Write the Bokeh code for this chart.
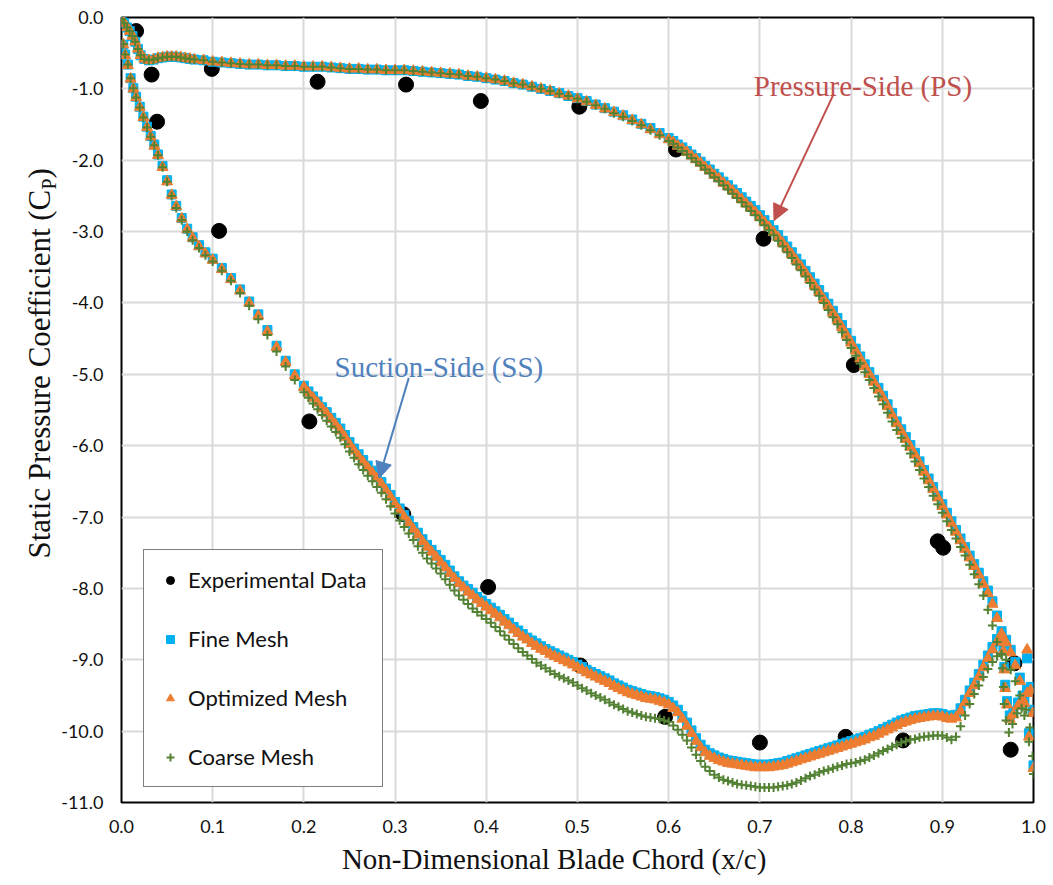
import math
from bokeh.plotting import figure
from bokeh.layouts import row, column
from bokeh.models import (Range1d, FixedTicker, NumeralTickFormatter, Label,
                          Arrow, NormalHead, Legend, LegendItem)
from bokeh.core.properties import value
from bokeh.embed import file_html
from bokeh.resources import INLINE

# ---------------- data ----------------
x_ticks = [0.0, 0.1, 0.2, 0.3, 0.4, 0.5, 0.6, 0.7, 0.8, 0.9, 1.0]
y_ticks = [0, -1, -2, -3, -4, -5, -6, -7, -8, -9, -10, -11]

exp_x = [0.016, 0.033, 0.039, 0.099, 0.107, 0.206, 0.215, 0.309, 0.312, 0.394, 0.402, 0.502,
         0.503, 0.596, 0.608, 0.700, 0.704, 0.794, 0.803, 0.857, 0.895, 0.901, 0.975, 0.979]
exp_cp = [-0.19, -0.80, -1.46, -0.72, -2.99, -5.66, -0.90, -6.96, -0.94, -1.17, -7.98, -1.25,
          -9.08, -9.80, -1.85, -10.16, -3.10, -10.08, -4.87, -10.13, -7.34, -7.43, -10.26, -9.05]

# suction side chord stations
x_ss = [0.000, 0.002, 0.004, 0.007, 0.010, 0.013, 0.016, 0.020, 0.024, 0.028,
        0.032, 0.036, 0.040, 0.045, 0.050, 0.055, 0.060, 0.066, 0.072, 0.078,
        0.085, 0.092, 0.100,
        0.11, 0.12, 0.13, 0.14, 0.15, 0.16, 0.17, 0.18, 0.19, 0.20,
        0.21, 0.22, 0.23, 0.24, 0.25, 0.26, 0.27, 0.28, 0.29, 0.30,
        0.31, 0.32, 0.33, 0.34, 0.35, 0.36, 0.37, 0.38, 0.39, 0.40,
        0.41, 0.42, 0.43, 0.44, 0.45, 0.46, 0.47, 0.48, 0.49, 0.50,
        0.51, 0.52, 0.53, 0.54, 0.55, 0.56, 0.57, 0.58, 0.59, 0.60,
        0.61, 0.62, 0.63, 0.64, 0.65, 0.66, 0.67, 0.68, 0.69, 0.70,
        0.71, 0.72, 0.73, 0.74, 0.75, 0.76, 0.77, 0.78, 0.79, 0.80,
        0.81, 0.82, 0.83, 0.84, 0.85, 0.86, 0.87, 0.88, 0.89, 0.90,
        0.905, 0.910, 0.915, 0.920, 0.925, 0.930, 0.935, 0.940, 0.945, 0.950,
        0.955, 0.960, 0.965, 0.970, 0.975, 0.980, 0.985, 0.990, 0.995, 1.000]

fine_ss = [-0.02, -0.38, -0.52, -0.66, -0.85, -0.99, -1.11, -1.25, -1.39, -1.53,
           -1.66, -1.78, -1.92, -2.08, -2.28, -2.48, -2.64, -2.81, -2.96, -3.08,
           -3.19, -3.29, -3.38,
           -3.51, -3.65, -3.81, -3.98, -4.16, -4.38, -4.60, -4.81, -5.00, -5.16,
           -5.31, -5.46, -5.61, -5.76, -5.95, -6.12, -6.28, -6.43, -6.60, -6.79,
           -6.97, -7.14, -7.31, -7.46, -7.60, -7.75, -7.90, -8.01, -8.12, -8.22,
           -8.32, -8.43, -8.54, -8.64, -8.73, -8.81, -8.88, -8.94, -9.00, -9.07,
           -9.14, -9.20, -9.26, -9.33, -9.39, -9.44, -9.48, -9.51, -9.54, -9.59,
           -9.70, -9.88, -10.10, -10.26, -10.34, -10.39, -10.42, -10.44, -10.46, -10.47,
           -10.47, -10.45, -10.42, -10.38, -10.34, -10.30, -10.26, -10.22, -10.18, -10.14,
           -10.10, -10.05, -10.00, -9.94, -9.88, -9.83, -9.79, -9.77, -9.75, -9.76,
           -9.78, -9.79, -9.77, -9.68, -9.56, -9.43, -9.32, -9.20, -9.07, -8.94,
           -8.82, -8.71, -8.66, -8.72, -8.86, -9.03, -9.25, -9.56, -10.03, -10.48]

opt_ss = [-0.02, -0.38, -0.53, -0.67, -0.86, -1.00, -1.12, -1.26, -1.40, -1.54,
          -1.67, -1.80, -1.93, -2.10, -2.30, -2.49, -2.65, -2.82, -2.97, -3.09,
          -3.21, -3.31, -3.40,
          -3.53, -3.67, -3.83, -4.00, -4.18, -4.40, -4.62, -4.83, -5.02, -5.18,
          -5.33, -5.48, -5.63, -5.79, -5.98, -6.15, -6.31, -6.46, -6.63, -6.82,
          -7.00, -7.17, -7.34, -7.49, -7.64, -7.79, -7.93, -8.05, -8.16, -8.26,
          -8.36, -8.47, -8.58, -8.68, -8.77, -8.85, -8.92, -8.98, -9.04, -9.11,
          -9.18, -9.24, -9.30, -9.37, -9.43, -9.48, -9.52, -9.55, -9.58, -9.63,
          -9.74, -9.93, -10.14, -10.30, -10.38, -10.43, -10.46, -10.48, -10.50, -10.51,
          -10.51, -10.49, -10.46, -10.42, -10.38, -10.34, -10.30, -10.26, -10.22, -10.18,
          -10.14, -10.09, -10.04, -9.98, -9.92, -9.87, -9.83, -9.81, -9.79, -9.80,
          -9.82, -9.83, -9.81, -9.72, -9.60, -9.47, -9.36, -9.24, -9.11, -8.98,
          -8.86, -8.75, -8.70, -8.76, -8.90, -9.08, -9.30, -9.61, -10.08, -10.52]

coarse_ss = [-0.02, -0.37, -0.52, -0.66, -0.85, -0.99, -1.12, -1.26, -1.40, -1.54,
             -1.67, -1.79, -1.93, -2.10, -2.30, -2.50, -2.67, -2.84, -3.00, -3.12,
             -3.23, -3.33, -3.42,
             -3.55, -3.69, -3.86, -4.04, -4.23, -4.45, -4.68, -4.89, -5.08, -5.25,
             -5.41, -5.57, -5.73, -5.89, -6.08, -6.26, -6.42, -6.58, -6.75, -6.95,
             -7.14, -7.32, -7.50, -7.65, -7.79, -7.95, -8.10, -8.22, -8.33, -8.43,
             -8.54, -8.66, -8.78, -8.89, -8.99, -9.08, -9.16, -9.23, -9.29, -9.36,
             -9.43, -9.50, -9.56, -9.63, -9.69, -9.74, -9.78, -9.81, -9.83, -9.87,
             -9.98, -10.13, -10.33, -10.50, -10.61, -10.68, -10.72, -10.75, -10.77, -10.79,
             -10.79, -10.78, -10.76, -10.72, -10.66, -10.61, -10.56, -10.52, -10.48, -10.45,
             -10.42, -10.37, -10.31, -10.25, -10.19, -10.14, -10.11, -10.08, -10.06, -10.06,
             -10.09, -10.12, -10.08, -9.93, -9.78, -9.62, -9.48, -9.36, -9.24, -9.13,
             -9.03, -8.95, -8.93, -9.00, -9.14, -9.30, -9.50, -9.78, -10.15, -10.60]

# extra suction-side stations (dense band 0.2 - 0.9)
x_ss_mid = [0.205, 0.215, 0.225, 0.235, 0.245, 0.255, 0.265, 0.275, 0.285, 0.295,
            0.305, 0.315, 0.325, 0.335, 0.345, 0.355, 0.365, 0.375, 0.385, 0.395,
            0.405, 0.415, 0.425, 0.435, 0.445, 0.455, 0.465, 0.475, 0.485, 0.495,
            0.505, 0.515, 0.525, 0.535, 0.545, 0.555, 0.565, 0.575, 0.585, 0.595,
            0.605, 0.615, 0.625, 0.635, 0.645, 0.655, 0.665, 0.675, 0.685, 0.695,
            0.705, 0.715, 0.725, 0.735, 0.745, 0.755, 0.765, 0.775, 0.785, 0.795,
            0.805, 0.815, 0.825, 0.835, 0.845, 0.855, 0.865, 0.875, 0.885, 0.895]
fine_ss_mid = [-5.24, -5.38, -5.53, -5.68, -5.85, -6.04, -6.20, -6.35, -6.51, -6.69,
               -6.88, -7.05, -7.22, -7.39, -7.53, -7.67, -7.83, -7.96, -8.06, -8.17,
               -8.27, -8.37, -8.48, -8.59, -8.69, -8.77, -8.85, -8.91, -8.97, -9.03,
               -9.10, -9.17, -9.23, -9.29, -9.36, -9.42, -9.46, -9.50, -9.52, -9.56,
               -9.64, -9.79, -9.99, -10.19, -10.31, -10.37, -10.41, -10.43, -10.45, -10.47,
               -10.47, -10.46, -10.44, -10.40, -10.36, -10.32, -10.28, -10.24, -10.20, -10.16,
               -10.12, -10.08, -10.03, -9.97, -9.91, -9.85, -9.81, -9.78, -9.76, -9.75]
opt_ss_mid = [-5.26, -5.40, -5.55, -5.71, -5.88, -6.07, -6.23, -6.38, -6.54, -6.72,
              -6.91, -7.08, -7.25, -7.42, -7.56, -7.71, -7.86, -7.99, -8.10, -8.21,
              -8.31, -8.41, -8.52, -8.63, -8.72, -8.81, -8.88, -8.95, -9.01, -9.07,
              -9.14, -9.21, -9.27, -9.33, -9.40, -9.46, -9.50, -9.54, -9.56, -9.60,
              -9.68, -9.83, -10.03, -10.23, -10.35, -10.41, -10.45, -10.47, -10.49, -10.51,
              -10.51, -10.50, -10.48, -10.44, -10.40, -10.36, -10.32, -10.28, -10.24, -10.20,
              -10.16, -10.12, -10.07, -10.01, -9.95, -9.89, -9.85, -9.82, -9.80, -9.79]
coarse_ss_mid = [-5.33, -5.49, -5.65, -5.81, -5.98, -6.17, -6.34, -6.50, -6.66, -6.85,
                 -7.05, -7.23, -7.41, -7.58, -7.72, -7.87, -8.03, -8.16, -8.28, -8.38,
                 -8.48, -8.60, -8.72, -8.84, -8.94, -9.04, -9.12, -9.20, -9.26, -9.32,
                 -9.40, -9.47, -9.53, -9.60, -9.66, -9.72, -9.76, -9.80, -9.82, -9.85,
                 -9.92, -10.05, -10.23, -10.42, -10.56, -10.65, -10.70, -10.74, -10.76, -10.78,
                 -10.79, -10.79, -10.77, -10.74, -10.69, -10.63, -10.58, -10.54, -10.50, -10.46,
                 -10.44, -10.40, -10.34, -10.28, -10.22, -10.16, -10.12, -10.09, -10.07, -10.06]

# pressure side chord stations
x_ps = [0.000, 0.003, 0.006, 0.009, 0.012, 0.015, 0.018, 0.021, 0.025, 0.030,
        0.035, 0.040, 0.045, 0.050, 0.055, 0.060, 0.065, 0.070, 0.075, 0.080,
        0.090, 0.100,
        0.11, 0.12, 0.13, 0.14, 0.15, 0.16, 0.17, 0.18, 0.19, 0.20,
        0.21, 0.22, 0.23, 0.24, 0.25, 0.26, 0.27, 0.28, 0.29, 0.30,
        0.31, 0.32, 0.33, 0.34, 0.35, 0.36, 0.37, 0.38, 0.39, 0.40,
        0.41, 0.42, 0.43, 0.44, 0.45, 0.46, 0.47, 0.48, 0.49, 0.50,
        0.51, 0.52, 0.53, 0.54, 0.55, 0.56, 0.57, 0.58, 0.59, 0.60,
        0.61, 0.62, 0.63, 0.64, 0.65, 0.66, 0.67, 0.68, 0.69, 0.70,
        0.71, 0.72, 0.73, 0.74, 0.75, 0.76, 0.77, 0.78, 0.79, 0.80,
        0.805, 0.810, 0.815, 0.820, 0.825, 0.830, 0.835, 0.840, 0.845, 0.850,
        0.855, 0.860, 0.865, 0.870, 0.875, 0.880, 0.885, 0.890, 0.895, 0.900,
        0.905, 0.910, 0.915, 0.920, 0.925, 0.930, 0.935, 0.940, 0.945, 0.950,
        0.955, 0.960, 0.965]

fine_ps = [-0.02, -0.08, -0.14, -0.19, -0.26, -0.34, -0.44, -0.53, -0.58, -0.60,
           -0.59, -0.57, -0.56, -0.55, -0.55, -0.55, -0.56, -0.57, -0.58, -0.59,
           -0.60, -0.62,
           -0.63, -0.64, -0.65, -0.66, -0.66, -0.67, -0.67, -0.68, -0.68, -0.69,
           -0.69, -0.69, -0.70, -0.71, -0.72, -0.72, -0.73, -0.73, -0.74, -0.74,
           -0.74, -0.75, -0.76, -0.77, -0.78, -0.79, -0.80, -0.82, -0.83, -0.85,
           -0.87, -0.89, -0.92, -0.94, -0.97, -1.00, -1.03, -1.06, -1.10, -1.13,
           -1.17, -1.22, -1.27, -1.32, -1.37, -1.43, -1.49, -1.55, -1.62, -1.69,
           -1.78, -1.87, -1.97, -2.08, -2.19, -2.30, -2.41, -2.52, -2.64, -2.77,
           -2.91, -3.05, -3.21, -3.38, -3.55, -3.73, -3.92, -4.11, -4.31, -4.53,
           -4.64, -4.75, -4.86, -4.97, -5.08, -5.19, -5.30, -5.42, -5.54, -5.66,
           -5.77, -5.88, -5.99, -6.10, -6.22, -6.34, -6.46, -6.58, -6.70, -6.82,
           -6.94, -7.06, -7.18, -7.30, -7.42, -7.54, -7.66, -7.78, -7.90, -8.03,
           -8.18, -8.38, -8.60]

opt_ps = [-0.02, -0.08, -0.14, -0.19, -0.26, -0.34, -0.44, -0.53, -0.58, -0.60,
          -0.59, -0.57, -0.56, -0.55, -0.55, -0.55, -0.56, -0.57, -0.58, -0.59,
          -0.60, -0.62,
          -0.63, -0.64, -0.65, -0.66, -0.66, -0.67, -0.67, -0.68, -0.68, -0.69,
          -0.69, -0.69, -0.70, -0.71, -0.72, -0.72, -0.73, -0.73, -0.74, -0.74,
          -0.74, -0.75, -0.76, -0.77, -0.78, -0.79, -0.80, -0.82, -0.83, -0.85,
          -0.87, -0.89, -0.92, -0.94, -0.97, -1.00, -1.03, -1.07, -1.10, -1.14,
          -1.18, -1.23, -1.28, -1.33, -1.38, -1.44, -1.50, -1.57, -1.64, -1.71,
          -1.80, -1.89, -1.99, -2.10, -2.21, -2.32, -2.43, -2.55, -2.67, -2.80,
          -2.94, -3.08, -3.24, -3.41, -3.58, -3.76, -3.95, -4.14, -4.34, -4.56,
          -4.67, -4.78, -4.89, -5.00, -5.11, -5.22, -5.33, -5.45, -5.57, -5.69,
          -5.80, -5.91, -6.02, -6.13, -6.25, -6.37, -6.49, -6.61, -6.73, -6.85,
          -6.97, -7.09, -7.21, -7.33, -7.45, -7.57, -7.69, -7.81, -7.94, -8.07,
          -8.22, -8.42, -8.64]

coarse_ps = [-0.02, -0.08, -0.14, -0.19, -0.26, -0.34, -0.44, -0.53, -0.58, -0.60,
             -0.59, -0.57, -0.56, -0.55, -0.55, -0.55, -0.56, -0.57, -0.58, -0.59,
             -0.60, -0.62,
             -0.63, -0.64, -0.65, -0.66, -0.66, -0.67, -0.67, -0.68, -0.68, -0.69,
             -0.69, -0.69, -0.70, -0.71, -0.72, -0.72, -0.73, -0.73, -0.74, -0.74,
             -0.74, -0.75, -0.76, -0.77, -0.78, -0.79, -0.80, -0.82, -0.83, -0.85,
             -0.87, -0.89, -0.92, -0.94, -0.97, -1.00, -1.03, -1.07, -1.10, -1.14,
             -1.18, -1.23, -1.28, -1.34, -1.39, -1.45, -1.51, -1.58, -1.65, -1.73,
             -1.82, -1.92, -2.02, -2.13, -2.24, -2.35, -2.47, -2.59, -2.71, -2.84,
             -2.98, -3.13, -3.29, -3.46, -3.63, -3.81, -4.00, -4.20, -4.41, -4.63,
             -4.74, -4.85, -4.97, -5.08, -5.19, -5.31, -5.42, -5.54, -5.66, -5.78,
             -5.89, -6.00, -6.11, -6.22, -6.34, -6.46, -6.58, -6.70, -6.82, -6.94,
             -7.06, -7.18, -7.30, -7.42, -7.54, -7.67, -7.80, -7.94, -8.10, -8.30,
             -8.52, -8.75, -8.92]

# extra pressure-side stations (steep part 0.6 - 0.8)
x_ps_mid = [0.605, 0.615, 0.625, 0.635, 0.645, 0.655, 0.665, 0.675, 0.685, 0.695,
            0.705, 0.715, 0.725, 0.735, 0.745, 0.755, 0.765, 0.775, 0.785, 0.795]
fine_ps_mid = [-1.73, -1.82, -1.92, -2.02, -2.13, -2.24, -2.35, -2.46, -2.58, -2.70,
               -2.84, -2.98, -3.13, -3.29, -3.46, -3.64, -3.82, -4.01, -4.21, -4.42]
opt_ps_mid = [-1.75, -1.84, -1.94, -2.04, -2.15, -2.26, -2.37, -2.49, -2.61, -2.73,
              -2.87, -3.01, -3.16, -3.32, -3.49, -3.67, -3.85, -4.04, -4.24, -4.45]
coarse_ps_mid = [-1.77, -1.87, -1.97, -2.07, -2.18, -2.29, -2.41, -2.53, -2.65, -2.77,
                 -2.91, -3.05, -3.21, -3.37, -3.54, -3.72, -3.90, -4.10, -4.30, -4.52]

# trailing-edge region (after the loading peak)
x_te_fine = [0.967, 0.968, 0.969, 0.971, 0.974, 0.978, 0.983, 0.988, 0.993, 0.997, 0.999, 0.993]
fine_te = [-8.85, -9.10, -9.35, -9.58, -9.78, -9.72, -9.60, -9.50, -9.42, -9.38, -9.70, -8.98]
x_te_opt = [0.967, 0.968, 0.969, 0.971, 0.974, 0.978, 0.983, 0.988, 0.993, 0.997, 0.999, 0.993]
opt_te = [-8.88, -9.14, -9.40, -9.63, -9.83, -9.77, -9.65, -9.55, -9.47, -9.43, -9.75, -8.86]
x_te_coarse = [0.966, 0.967, 0.968, 0.970, 0.973, 0.977, 0.982, 0.987, 0.992, 0.996, 0.999]
coarse_te = [-9.12, -9.38, -9.62, -9.85, -10.02, -9.90, -9.75, -9.68, -9.70, -9.95, -10.35]

# ---------------- main figure ----------------
p = figure(width=995, height=842, output_backend="svg", toolbar_location=None,
           x_range=Range1d(0, 1), y_range=Range1d(-11, 0),
           min_border_left=62, min_border_right=20, min_border_top=17, min_border_bottom=40,
           background_fill_color="white", border_fill_color="white")
p.outline_line_color = "black"
p.outline_line_width = 2

p.xaxis.ticker = FixedTicker(ticks=x_ticks)
p.yaxis.ticker = FixedTicker(ticks=y_ticks)
p.xaxis.formatter = NumeralTickFormatter(format="0.0")
p.yaxis.formatter = NumeralTickFormatter(format="0.0")
for ax in (p.xaxis[0], p.yaxis[0]):
    ax.axis_line_color = None
    ax.major_tick_line_color = None
    ax.minor_tick_line_color = None
    ax.major_tick_out = 0
    ax.major_tick_in = 0
    ax.minor_tick_out = 0
    ax.major_label_text_font = "Lato"
    ax.major_label_text_font_size = "18px"
    ax.major_label_text_color = "#111111"
p.xaxis.major_label_standoff = 17
p.yaxis.major_label_standoff = 18
p.grid.grid_line_color = "#d9d9d9"
p.grid.grid_line_width = 2

c_fine = "#00B0F0"
c_opt = "#ED7D31"
c_coarse = "#548235"

r_exp = p.scatter(exp_x, exp_cp, marker="circle", size=15, fill_color="black", line_color="black")

fine_sets = [(x_ss, fine_ss), (x_ss_mid, fine_ss_mid), (x_ps, fine_ps), (x_ps_mid, fine_ps_mid),
             (x_te_fine, fine_te)]
opt_sets = [(x_ss, opt_ss), (x_ss_mid, opt_ss_mid), (x_ps, opt_ps), (x_ps_mid, opt_ps_mid),
            (x_te_opt, opt_te)]
coarse_sets = [(x_ss, coarse_ss), (x_ss_mid, coarse_ss_mid), (x_ps, coarse_ps),
               (x_ps_mid, coarse_ps_mid), (x_te_coarse, coarse_te)]

r_fine = [p.scatter(xs, ys, marker="square", size=9, fill_color=c_fine, line_color=c_fine)
          for xs, ys in fine_sets]
r_opt = [p.scatter(xs, ys, marker="triangle", size=11, fill_color=c_opt, line_color=c_opt)
         for xs, ys in opt_sets]
r_coarse = [p.scatter(xs, ys, marker="cross", size=9, line_color=c_coarse, line_width=2)
            for xs, ys in coarse_sets]

legend = Legend(items=[
    LegendItem(label="Experimental Data", renderers=[r_exp]),
    LegendItem(label="Fine Mesh", renderers=[r_fine[0]]),
    LegendItem(label="Optimized Mesh", renderers=[r_opt[0]]),
    LegendItem(label="Coarse Mesh", renderers=[r_coarse[0]]),
], location=(22, 15))
legend.label_text_font = "Lato"
legend.label_text_font_size = "22px"
legend.label_text_color = "#111111"
legend.border_line_color = "black"
legend.border_line_width = 1
legend.background_fill_color = "white"
legend.background_fill_alpha = 1
legend.padding = 16
legend.spacing = 32
legend.glyph_height = 20
legend.glyph_width = 20
legend.label_height = 20
legend.label_standoff = 8
legend.margin = 0
p.add_layout(legend)

red = "#C0504D"
blue = "#4F81BD"
p.add_layout(Label(x=0.813, y=-0.958, text="Pressure-Side (PS)", text_font="Liberation Serif",
                   text_font_size="29px", text_color=red, text_align="center",
                   text_baseline="alphabetic"))
p.add_layout(Arrow(end=NormalHead(size=16, fill_color=red, line_color=red),
                   x_start=0.781, y_start=-1.07, x_end=0.7155, y_end=-2.846,
                   line_color=red, line_width=2))
p.add_layout(Label(x=0.348, y=-4.90, text="Suction-Side (SS)", text_font="Liberation Serif",
                   text_font_size="29px", text_color=blue, text_align="center",
                   text_baseline="alphabetic"))
p.add_layout(Arrow(end=NormalHead(size=16, fill_color=blue, line_color=blue),
                   x_start=0.315, y_start=-5.05, x_end=0.2824, y_end=-6.455,
                   line_color=blue, line_width=2))

# ---------------- y-axis title strip ----------------
ytitle = figure(width=58, height=885, output_backend="svg", toolbar_location=None,
                x_range=Range1d(0, 58), y_range=Range1d(0, 885),
                x_axis_location=None, y_axis_location=None,
                min_border_left=0, min_border_right=0, min_border_top=0, min_border_bottom=0,
                background_fill_color="white", border_fill_color="white")
ytitle.outline_line_color = None
ytitle.grid.visible = False
serif = value("Liberation Serif")
ytitle.text(x=[39], y=[327], text=["Static Pressure Coefficient (C"], angle=math.pi / 2,
            text_font=serif, text_font_size="31px", text_color="#111111",
            text_align="left", text_baseline="middle")
ytitle.text(x=[48], y=[696], text=["P"], angle=math.pi / 2,
            text_font=serif, text_font_size="20px", text_color="#111111",
            text_align="left", text_baseline="middle")
ytitle.text(x=[39], y=[707], text=[")"], angle=math.pi / 2,
            text_font=serif, text_font_size="31px", text_color="#111111",
            text_align="left", text_baseline="middle")

# ---------------- x-axis title strip ----------------
xtitle = figure(width=995, height=43, output_backend="svg", toolbar_location=None,
                x_range=Range1d(0, 995), y_range=Range1d(0, 43),
                x_axis_location=None, y_axis_location=None,
                min_border_left=0, min_border_right=0, min_border_top=0, min_border_bottom=0,
                background_fill_color="white", border_fill_color="white")
xtitle.outline_line_color = None
xtitle.grid.visible = False
xtitle.text(x=[472], y=[27], text=["Non-Dimensional Blade Chord (x/c)"],
            text_font=serif, text_font_size="29px", text_color="#111111",
            text_align="center", text_baseline="middle")

layout = row(ytitle, column(p, xtitle, spacing=0), spacing=0)
open("out.html", "w").write(file_html(layout, INLINE))
